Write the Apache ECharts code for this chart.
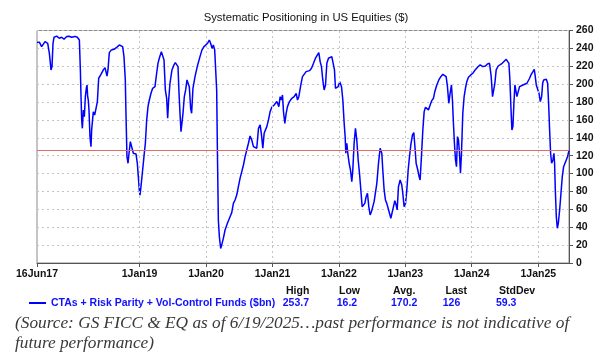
<!DOCTYPE html>
<html><head><meta charset="utf-8">
<script src="https://cdn.jsdelivr.net/npm/echarts@6/dist/echarts.min.js"></script>
<style>html,body{margin:0;padding:0;background:#fff}#c{width:612px;height:356px}</style>
</head><body><div id="c"></div>
<script>
const titleText = 'Systematic Positioning in US Equities ($)';
const seriesName = 'CTAs + Risk Parity + Vol-Control Funds ($bn)';
const xStart = '2017-06-16';
const xEnd = '2025-06-19';
const tickDates = ['2017-06-16','2019-01-01','2020-01-01','2021-01-01','2022-01-01','2023-01-01','2024-01-01','2025-01-01'];
const monthNames = ['Jan','Feb','Mar','Apr','May','Jun','Jul','Aug','Sep','Oct','Nov','Dec'];
const yMin = 0, yMax = 260, yStep = 20;

// dates as decimal years
const dateYears = [
2017.455,2017.490,2017.525,2017.550,2017.576,2017.601,2017.616,2017.641,2017.666,2017.681,
2017.696,2017.711,2017.751,2017.791,2017.827,2017.862,2017.902,2017.937,2017.977,2018.027,
2018.062,2018.093,2018.108,2018.118,2018.128,2018.138,2018.153,2018.168,2018.183,2018.198,
2018.208,2018.218,2018.228,2018.238,2018.253,2018.268,2018.278,2018.303,2018.323,2018.344,
2018.364,2018.384,2018.414,2018.454,2018.479,2018.494,2018.509,2018.524,2018.544,2018.575,
2018.615,2018.655,2018.695,2018.720,2018.745,2018.765,2018.785,2018.795,2018.810,2018.826,
2018.841,2018.861,2018.886,2018.906,2018.926,2018.946,2018.966,2018.981,2018.996,2019.006,
2019.021,2019.046,2019.066,2019.087,2019.107,2019.127,2019.147,2019.172,2019.197,2019.232,
2019.257,2019.277,2019.297,2019.328,2019.348,2019.368,2019.388,2019.408,2019.423,2019.438,
2019.458,2019.488,2019.518,2019.538,2019.558,2019.579,2019.594,2019.609,2019.624,2019.639,
2019.654,2019.674,2019.694,2019.714,2019.734,2019.749,2019.769,2019.784,2019.804,2019.835,
2019.875,2019.910,2019.940,2019.970,2020.000,2020.025,2020.050,2020.070,2020.091,2020.111,
2020.131,
2020.161,2020.171,2020.186,2020.201,2020.221,2020.236,2020.261,2020.287,2020.322,2020.362,
2020.387,2020.412,2020.437,2020.462,2020.487,2020.512,2020.538,2020.563,2020.588,2020.613,
2020.638,2020.663,2020.688,2020.713,2020.738,2020.763,2020.789,2020.814,2020.834,2020.854,
2020.874,2020.914,2020.939,2020.964,2020.989,2021.024,2021.065,2021.095,2021.115,2021.135,
2021.150,2021.165,2021.185,2021.205,2021.225,2021.255,2021.291,2021.326,2021.356,2021.376,
2021.396,2021.426,2021.451,2021.476,2021.506,2021.532,2021.557,2021.587,2021.617,2021.647,
2021.677,2021.697,2021.717,2021.737,2021.757,2021.777,2021.798,2021.818,2021.843,2021.868,
2021.893,2021.918,2021.933,2021.948,2021.968,2021.988,2022.013,2022.039,2022.059,2022.079,
2022.094,2022.104,2022.119,2022.134,2022.154,2022.174,2022.194,2022.209,2022.229,2022.249,
2022.269,2022.290,2022.310,2022.330,2022.350,2022.370,2022.390,2022.410,2022.430,2022.450,
2022.470,2022.490,2022.510,2022.530,2022.551,2022.571,2022.596,
2022.621,2022.646,2022.661,2022.681,2022.701,2022.721,2022.741,2022.762,2022.782,2022.802,
2022.822,2022.842,2022.862,2022.877,2022.897,2022.922,2022.947,2022.962,2022.982,2023.003,
2023.023,2023.043,2023.063,2023.083,2023.108,2023.128,2023.143,2023.163,2023.188,2023.208,
2023.223,2023.243,2023.264,2023.284,2023.304,2023.324,2023.349,2023.374,2023.399,2023.424,
2023.444,2023.474,2023.505,2023.535,2023.565,2023.595,2023.615,2023.635,2023.655,2023.675,
2023.695,2023.710,2023.725,2023.740,2023.756,2023.771,2023.786,2023.801,2023.816,2023.831,
2023.846,2023.866,2023.886,2023.906,2023.926,2023.951,2023.986,2024.017,2024.052,2024.087,
2024.127,2024.167,2024.207,2024.237,2024.268,2024.293,2024.313,2024.328,2024.348,2024.368,
2024.398,2024.428,2024.458,2024.488,2024.519,2024.539,2024.559,2024.574,2024.589,2024.604,
2024.619,2024.634,2024.649,2024.664,2024.679,2024.699,2024.719,2024.739,2024.770,2024.800,
2024.830,2024.850,2024.870,2024.890,2024.920,2024.940,2024.955,2024.970,2024.990,2025.011,
2025.031,2025.051,2025.066,2025.081,2025.101,2025.121,2025.141,2025.156,2025.171,2025.186,
2025.201,2025.221,2025.236,2025.246,2025.257,2025.272,2025.287,2025.302,2025.322,2025.342,
2025.362,2025.382,2025.402,2025.422,2025.442,2025.462
];

const positioning = [
246.5,247,242,240,247.6,248.7,245.7,234.5,215.9,220,
245.7,252.4,253.7,251.3,252.4,250.2,253.2,253.5,252.4,253.4,
252.4,249.4,215.9,186,160,150.6,171,163.7,186,195.4,
199,186,182,171,141,130,148.8,169,165.5,173,
180.5,206.6,210.3,215.9,218.5,214,209,215.9,235.3,238.3,
239,241.2,243.8,245.7,242,230.8,204.7,167.4,119,111.5,
122.7,135.7,137.6,122.7,120.8,122,111.5,96.6,81.7,76,
85.4,104,119,133.9,160,174.9,182.3,189.8,195.4,197.2,
212.2,223.3,229,236.4,238.3,227,193.5,184.2,161.8,182.3,
201,215.9,221.5,224,223.3,219.6,189.8,167.4,146.9,145,
167.4,186,193.5,204.7,206.6,197.2,173,167.4,195.4,208.4,
221.5,230.8,238.3,242,243.8,245.7,249.4,245.7,240,243.8,
238.3,
193.5,130.1,48.1,29.5,16.2,20,27.6,36.9,44.4,51.8,
56.3,66.7,70.5,76,85.4,94.7,102.2,109.6,119,126.4,
133.9,142,137.6,130.1,132,128.3,150.6,154.4,143.2,128.3,
145,152.5,160,169.3,174.1,176.7,180.5,174.9,186,182.3,
187.9,169.3,156.2,167.4,174.9,180.5,184.2,186,189.8,182.3,
186,199.1,208.4,208.4,214,212.2,215.1,217.7,223.3,229,
230.8,235.3,225.2,219.6,204.7,193.5,199,223.3,229,227.8,
230.8,229,215.9,195.4,193.5,197.2,202.8,197.2,182.3,156.2,
141.3,122.7,133.9,122.7,111.5,104,91,104,133.9,150.6,
137.6,115.2,100.3,81.7,63,61.1,66.7,74.2,78,63,
53.7,57.4,63,68.6,66.7,89.1,111.5,
128.3,122.7,104,81.7,70.5,66.7,64.9,55.6,50,51.8,
63,69.7,64.9,59.3,85.4,92.8,87.2,78,63,66.7,
81.7,104,119,132,143.2,145.8,132,111.5,104,96.6,
92.8,119,148.8,169.3,174.1,173,171.2,176.7,181.6,184.2,
191.6,199.1,204.7,208.4,211,212.2,208.4,197.2,178.6,189.8,
199.1,182.3,156.2,133.9,115.2,107.7,141.3,137.6,122.7,100.3,
122.7,167.4,186,195.4,202.8,207.7,210.3,212.2,215.9,218.9,
221.5,219.6,220.3,222.6,223.3,208.4,186,184.2,201,215.9,
220.3,221.5,223.3,225.2,227.8,229,223.3,204.7,174.9,148.8,
152.5,178.6,199.1,197.2,186,191.6,197.2,195.4,199.1,198,
201,199.1,206.6,210.3,214,216.6,208.4,199.1,197.2,189.8,
180.5,186,201,204.7,203.5,205.4,201,178.6,148.8,122.7,
111.5,115.2,122.7,111.5,81.7,51.8,38.8,44.4,59.3,78,
96.6,107.7,111.5,115.2,119,126
];

const statLabels = ['High','Low','Avg.','Last','StdDev'];
const statValues = ['253.7','16.2','170.2','126','59.3'];
const lastValue = 126;
const sourceLines = [
  '(Source: GS FICC & EQ as of 6/19/2025\u2026past performance is not indicative of',
  'future performance)'
];

function parseDay(s){ const p = s.split('-').map(Number); return Date.UTC(p[0], p[1]-1, p[2]); }
function yearToTs(y){ const yr = Math.floor(y); const a = Date.UTC(yr,0,1), b = Date.UTC(yr+1,0,1); return a + (y-yr)*(b-a); }
function fmtTick(v){ const d = new Date(v); return d.getUTCDate() + monthNames[d.getUTCMonth()] + String(d.getUTCFullYear()).slice(2); }

const seriesData = dateYears.map((y,i)=>[yearToTs(y), positioning[i]]);
const tickTs = tickDates.map(parseDay);

const FONT = 'Liberation Sans, Arial, sans-serif';
const statHeadX = [286, 339, 393, 445.5, 499];
const statValX = [282.7, 336.7, 391, 442.7, 496];

const graphics = [];
statLabels.forEach((t,i)=>graphics.push({type:'text', style:{x:statHeadX[i], y:291, text:t, fill:'#111', font:'bold 10.5px '+FONT, align:'left', verticalAlign:'middle'}}));
statValues.forEach((t,i)=>graphics.push({type:'text', style:{x:statValX[i], y:302.8, text:t, fill:'#1010ff', font:'bold 10.5px '+FONT, align:'left', verticalAlign:'middle'}}));
sourceLines.forEach((t,i)=>graphics.push({type:'text', style:{x:15, y:323+i*20.5, text:t, fill:'#3a3a3a', font:'italic 17.3px "Liberation Serif", serif', align:'left', verticalAlign:'middle'}}));

const chart = echarts.init(document.getElementById('c'), null, {renderer:'canvas'});
chart.setOption({
  animation:false,
  backgroundColor:'#fff',
  title:{text:titleText, left:'center', top:12, padding:0,
    textStyle:{fontFamily:FONT, fontSize:11.3, fontWeight:'normal', color:'#111'}},
  grid:{left:37, right:43, top:30.5, bottom:93, show:true, borderColor:'#8a8a8a', borderWidth:1},
  legend:{left:29, top:297, padding:0, icon:'rect', itemWidth:17, itemHeight:2,
    textStyle:{fontFamily:FONT, fontSize:10.5, fontWeight:'bold', color:'#1010ff', lineHeight:12},
    data:[seriesName]},
  xAxis:{type:'value', min:parseDay(xStart), max:parseDay(xEnd),
    axisLine:{show:true, lineStyle:{color:'#555', width:1}},
    axisTick:{show:true, length:4, customValues:tickTs, lineStyle:{color:'#555'}},
    axisLabel:{customValues:tickTs, formatter:fmtTick, margin:6, color:'#111', fontFamily:FONT, fontSize:10.5, fontWeight:'bold'},
    splitLine:{show:false}},
  yAxis:{type:'value', position:'right', min:yMin, max:yMax, interval:yStep,
    axisLine:{show:true, lineStyle:{color:'#555', width:1}},
    axisTick:{show:true, length:4, inside:false, lineStyle:{color:'#555'}},
    axisLabel:{margin:7, color:'#111', fontFamily:FONT, fontSize:10.5, fontWeight:'bold'},
    splitLine:{show:true, lineStyle:{color:'#c4c4c4', type:[2,3], width:1}}},
  series:[{
    name:seriesName, type:'line', data:seriesData, showSymbol:false, symbol:'none',
    lineStyle:{color:'#0000ff', width:1.5}, itemStyle:{color:'#0000ff'},
    markLine:{silent:true, symbol:['none','none'], label:{show:false},
      data:[
        ...tickTs.slice(1).map(t=>({xAxis:t, lineStyle:{color:'#c4c4c4', type:[2,3], width:1}})),
        {yAxis:lastValue, lineStyle:{color:'#e46a6a', type:'solid', width:1}}
      ]}
  }],
  graphic:graphics
});
</script></body></html>
